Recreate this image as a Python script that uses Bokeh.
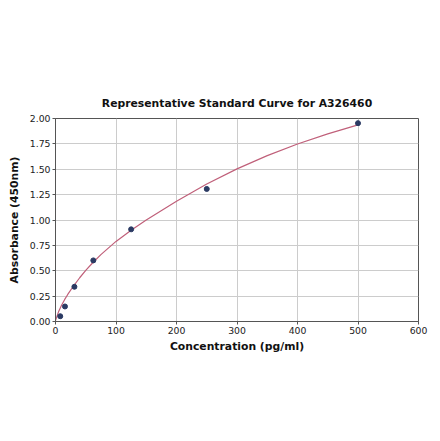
from bokeh.plotting import figure
from bokeh.models import FixedTicker, Range1d
from bokeh.embed import file_html
from bokeh.resources import INLINE

# Standard points
conc = [7.8125, 15.625, 31.25, 62.5, 125, 250, 500]
absorb = [0.052, 0.148, 0.342, 0.602, 0.908, 1.306, 1.954]

# Fitted curve
curve_x = [0, 5, 10, 15, 20, 30, 40, 50, 60, 75, 100, 125, 150, 200, 250, 300, 350, 400, 450, 500]
curve_y = [0.01, 0.095, 0.16, 0.215, 0.264, 0.352, 0.431, 0.503, 0.569, 0.659, 0.789,
           0.899, 0.999, 1.184, 1.354, 1.504, 1.634, 1.749, 1.849, 1.937]

x_ticks = [0, 100, 200, 300, 400, 500, 600]
y_ticks = [0.0, 0.25, 0.5, 0.75, 1.0, 1.25, 1.5, 1.75, 2.0]
y_labels = {0.0: "0.00", 0.25: "0.25", 0.5: "0.50", 0.75: "0.75", 1.0: "1.00",
            1.25: "1.25", 1.5: "1.50", 1.75: "1.75", 2.0: "2.00"}

FONT = "DejaVu Sans"

p = figure(frame_width=363, frame_height=203, output_backend="svg", toolbar_location=None,
           x_range=Range1d(0, 600), y_range=Range1d(0, 2.0),
           title="Representative Standard Curve for A326460",
           min_border_left=55, min_border_right=14, min_border_top=118, min_border_bottom=40)

p.title.align = "center"
p.title.text_font = FONT
p.title.text_font_size = "10.8px"
p.title.text_font_style = "bold"
p.title.text_color = "#111111"
p.title.offset = 0
p.title.standoff = 17

p.background_fill_color = "white"
p.border_fill_color = "white"
p.outline_line_color = "#555555"
p.outline_line_width = 1

p.xaxis.ticker = FixedTicker(ticks=x_ticks)
p.yaxis.ticker = FixedTicker(ticks=y_ticks)
p.yaxis.major_label_overrides = y_labels
p.xaxis.axis_label = "Concentration (pg/ml)"
p.yaxis.axis_label = "Absorbance (450nm)"
for ax in (p.xaxis, p.yaxis):
    ax.axis_label_text_font = FONT
    ax.axis_label_text_font_size = "10.8px"
    ax.axis_label_text_font_style = "bold"
    ax.axis_label_text_color = "#111111"
    ax.major_label_text_font = FONT
    ax.major_label_text_font_size = "9.3px"
    ax.major_label_text_color = "#222222"
    ax.minor_tick_line_color = None
    ax.major_tick_in = 0
    ax.major_tick_out = 3
    ax.major_tick_line_color = "#555555"
    ax.axis_line_color = "#555555"
    ax.major_label_standoff = 2
p.xaxis.axis_label_standoff = 3
p.yaxis.axis_label_standoff = 6

p.grid.grid_line_color = "#cccccc"
p.grid.grid_line_width = 1

p.line(curve_x, curve_y, line_color="#c0607a", line_width=1.2)
p.scatter(conc, absorb, size=5, fill_color="#2b3a63", line_color="#2b3a63")

open("out.html", "w").write(file_html(p, INLINE))
